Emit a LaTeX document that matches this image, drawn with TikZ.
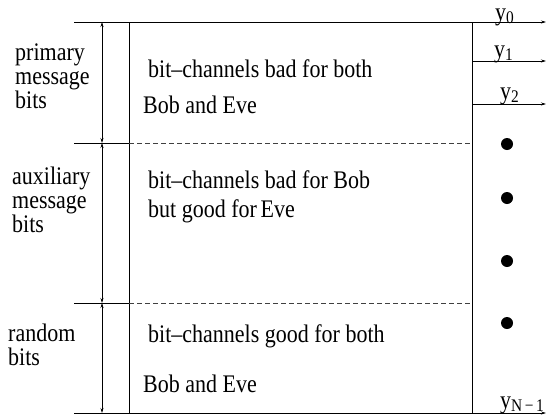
\documentclass[tikz,border=0pt]{standalone}
\usepackage{graphicx}
\usepackage{fontspec}
\setmainfont{Liberation Serif}
\usetikzlibrary{arrows.meta,positioning}

\newcommand{\tallrow}[1]{\scalebox{1}[1.15]{#1}}

\begin{document}
\begin{tikzpicture}[
    x=1pt, y=-1pt,
    every node/.style={inner sep=0pt, font=\fontsize{22}{24}\selectfont},
    sidelabel/.style={anchor=base west, align=left},
    chantext/.style={anchor=base west},
    ylabel/.style={anchor=base west},
    boxrule/.style={line width=0.7pt, draw=black},
    partline/.style={line width=0.7pt, draw=black!75, dash pattern=on 5pt off 3pt},
    spanarrow/.style={{Stealth[length=5pt,width=3pt]}-{Stealth[length=5pt,width=3pt]}, line width=0.7pt},
    outarrow/.style={-{Stealth[length=5pt,width=3pt]}, line width=0.7pt},
    chdot/.style={circle, fill=black, minimum size=12pt}
  ]
  \useasboundingbox (0,0) rectangle (548,418);

  \coordinate (topL) at (74,22);
  \coordinate (topR) at (472,22);
  \coordinate (botL) at (74,413);
  \coordinate (botR) at (472,413);
  \coordinate (sepT) at (129,22);
  \coordinate (sepB) at (129,413);
  \coordinate (cut1L) at (74,143);
  \coordinate (cut1M) at (129,143);
  \coordinate (cut1R) at (472,143);
  \coordinate (cut2L) at (74,303);
  \coordinate (cut2M) at (129,303);
  \coordinate (cut2R) at (472,303);
  \coordinate (tap1) at (472,61);
  \coordinate (tap2) at (472,104);
  \coordinate (out0) at (546,22);
  \coordinate (out1) at (546,61);
  \coordinate (out2) at (546,104);
  \coordinate (outN) at (546,413);
  \coordinate (spanT) at (102,22);
  \coordinate (span1) at (102,143);
  \coordinate (span2) at (102,303);
  \coordinate (spanB) at (102,413);

  \draw[boxrule] (topL) -- (topR);
  \draw[boxrule] (botL) -- (botR);
  \draw[boxrule] (sepT) -- (sepB);
  \draw[boxrule] (topR) -- (botR);
  \draw[boxrule] (cut1L) -- (cut1M);
  \draw[boxrule] (cut2L) -- (cut2M);
  \draw[partline] (cut1M) -- (cut1R);
  \draw[partline] (cut2M) -- (cut2R);
  \draw[outarrow] (topR) -- (out0);
  \draw[outarrow] (tap1) -- (out1);
  \draw[outarrow] (tap2) -- (out2);
  \draw[outarrow] (botR) -- (outN);
  \draw[spanarrow] (spanT) -- (span1);
  \draw[spanarrow] (span1) -- (span2);
  \draw[spanarrow] (span2) -- (spanB);

  \node[sidelabel] (primary) at (15,108) {\tallrow{primary}\\\tallrow{message}\\\tallrow{bits}};
  \node[sidelabel] (auxiliary) at (12,232) {\tallrow{auxiliary}\\\tallrow{message}\\\tallrow{bits}};
  \node[sidelabel] (random) at (8,365) {\tallrow{random}\\\tallrow{bits}};

  \node[chantext] (bad1) at (148,77) {\tallrow{bit--channels bad for both}};
  \node[chantext] (bad2) at (143,113) {\tallrow{Bob and Eve}};
  \node[chantext] (mix1) at (148,188) {\tallrow{bit--channels bad for Bob}};
  \node[chantext] (mix2) at (148,217) {\tallrow{but good for\,Eve}};
  \node[chantext] (good1) at (148,342) {\tallrow{bit--channels good for both}};
  \node[chantext] (good2) at (143,392) {\tallrow{Bob and Eve}};

  \node[ylabel] (y0) at (495,20) {\tallrow{y\textsubscript{0}}};
  \node[ylabel] (y1) at (494,57) {\tallrow{y\textsubscript{1}}};
  \node[ylabel] (y2) at (500,99) {\tallrow{y\textsubscript{2}}};
  \node[ylabel] (yN) at (500,408) {\tallrow{y\textsubscript{N\,−\,1}}};

  \node[chdot] (d1) at (507,144) {};
  \node[chdot] (d2) at (507,198) {};
  \node[chdot] (d3) at (507,261) {};
  \node[chdot] (d4) at (507,323) {};
\end{tikzpicture}
\end{document}
